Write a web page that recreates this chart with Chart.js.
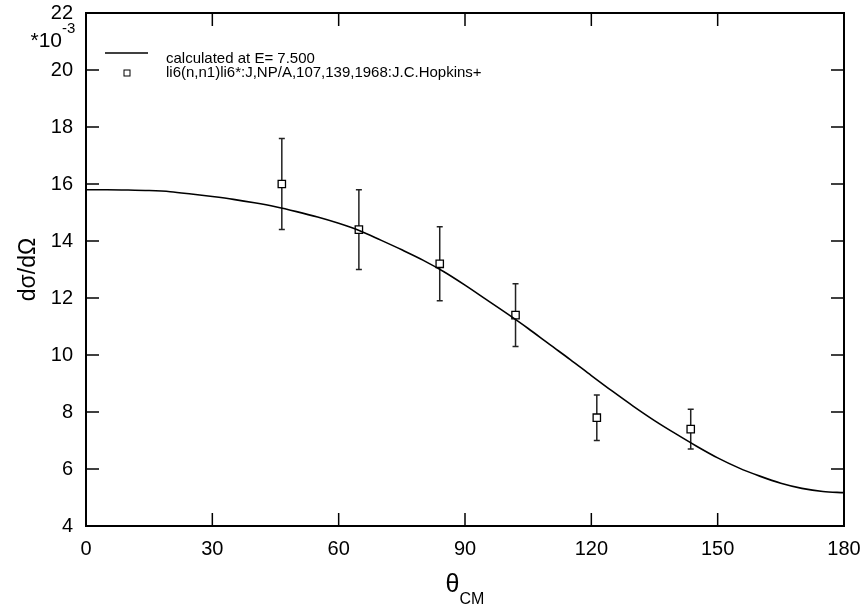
<!DOCTYPE html>
<html>
<head>
<meta charset="utf-8">
<script src="https://cdn.jsdelivr.net/npm/chart.js@4.4.0/dist/chart.umd.min.js"></script>
<style>
  html, body { margin: 0; padding: 0; background: #fff; }
</style>
</head>
<body>
<canvas id="xsChart" width="865" height="607"></canvas>
<script>
// calculated curve (units of 1e-3)
const curveAngles = [0, 5, 10, 15, 20, 25, 30, 35, 40, 45, 50, 55, 60, 65, 70, 75, 80, 85, 90,
                     95, 100, 105, 110, 115, 120, 125, 130, 135, 140, 145, 150, 155, 160, 165, 170, 175, 180];
const curveValues = [15.80, 15.80, 15.79, 15.77, 15.73, 15.65, 15.56, 15.46, 15.34, 15.20, 15.03, 14.84,
                     14.62, 14.36, 14.03, 13.69, 13.33, 12.92, 12.45, 11.95, 11.45, 10.93, 10.38, 9.84,
                     9.28, 8.73, 8.20, 7.70, 7.24, 6.80, 6.39, 6.04, 5.75, 5.50, 5.32, 5.21, 5.17];

// experimental points
const expAngles = [46.5, 64.8, 84.0, 102.0, 121.3, 143.6];
const expValues = [16.0, 14.4, 13.2, 11.4, 7.8, 7.4];
const expErrors = [1.6, 1.4, 1.3, 1.1, 0.8, 0.7];

const xTicks = [0, 30, 60, 90, 120, 150, 180];
const yTicks = [4, 6, 8, 10, 12, 14, 16, 18, 20, 22];

const legendLabels = ['calculated at E= 7.500', 'li6(n,n1)li6*:J,NP/A,107,139,1968:J.C.Hopkins+'];

const FONT = '"Liberation Sans", Arial, Helvetica, sans-serif';

// error bars, frame, inward ticks, titles, legend
const decorPlugin = {
    id: 'decor',
    beforeDatasetsDraw(chart) {
        const ctx = chart.ctx;
        const xs = chart.scales.x, ys = chart.scales.y;
        ctx.save();
        ctx.strokeStyle = '#222';
        ctx.lineWidth = 1.5;
        expAngles.forEach((a, i) => {
            const px = xs.getPixelForValue(a);
            const top = ys.getPixelForValue(expValues[i] + expErrors[i]);
            const bot = ys.getPixelForValue(expValues[i] - expErrors[i]);
            ctx.beginPath();
            ctx.moveTo(px, top); ctx.lineTo(px, bot);
            ctx.moveTo(px - 3, top); ctx.lineTo(px + 3, top);
            ctx.moveTo(px - 3, bot); ctx.lineTo(px + 3, bot);
            ctx.stroke();
        });
        ctx.restore();
    },
    afterDraw(chart) {
        const ctx = chart.ctx;
        const a = chart.chartArea;
        const xs = chart.scales.x, ys = chart.scales.y;
        ctx.save();
        ctx.strokeStyle = '#000';
        ctx.fillStyle = '#000';

        // ticks inside frame
        ctx.lineWidth = 1.5;
        ctx.beginPath();
        xTicks.forEach(t => {
            const px = xs.getPixelForValue(t);
            ctx.moveTo(px, a.bottom); ctx.lineTo(px, a.bottom - 13);
            ctx.moveTo(px, a.top); ctx.lineTo(px, a.top + 13);
        });
        yTicks.forEach(t => {
            const py = ys.getPixelForValue(t);
            ctx.moveTo(a.left, py); ctx.lineTo(a.left + 13, py);
            ctx.moveTo(a.right, py); ctx.lineTo(a.right - 13, py);
        });
        ctx.stroke();

        // frame
        ctx.lineWidth = 2;
        ctx.strokeRect(a.left, a.top, a.right - a.left, a.bottom - a.top);

        // scale factor note
        ctx.textBaseline = 'alphabetic';
        ctx.font = '21px ' + FONT;
        ctx.textAlign = 'right';
        ctx.fillText('*10', a.left - 24, a.top + 34);
        ctx.font = '15px ' + FONT;
        ctx.textAlign = 'left';
        ctx.fillText('-3', a.left - 24, a.top + 20);

        // y title
        ctx.save();
        ctx.translate(29, (a.top + a.bottom) / 2);
        ctx.rotate(-Math.PI / 2);
        ctx.font = '23px ' + FONT;
        ctx.textAlign = 'center';
        ctx.textBaseline = 'middle';
        ctx.fillText('dσ/dΩ', 0, 0);
        ctx.restore();

        // x title with subscript
        const cx = (a.left + a.right) / 2;
        ctx.font = '25px ' + FONT;
        const wTheta = ctx.measureText('θ').width;
        ctx.font = '16px ' + FONT;
        const wCM = ctx.measureText('CM').width;
        const x0 = cx - (wTheta + wCM) / 2;
        ctx.textAlign = 'left';
        ctx.font = '25px ' + FONT;
        ctx.fillText('θ', x0, a.bottom + 66);
        ctx.font = '16px ' + FONT;
        ctx.fillText('CM', x0 + wTheta, a.bottom + 78);

        // legend
        ctx.lineWidth = 1.3;
        ctx.beginPath();
        ctx.moveTo(a.left + 19, a.top + 40);
        ctx.lineTo(a.left + 62, a.top + 40);
        ctx.stroke();
        ctx.font = '15px ' + FONT;
        ctx.fillText(legendLabels[0], a.left + 80, a.top + 50);
        ctx.lineWidth = 1;
        ctx.fillStyle = '#fff';
        ctx.fillRect(a.left + 38, a.top + 57, 6, 6);
        ctx.strokeRect(a.left + 38, a.top + 57, 6, 6);
        ctx.fillStyle = '#000';
        ctx.fillText(legendLabels[1], a.left + 80, a.top + 64);

        ctx.restore();
    }
};

const ctx = document.getElementById('xsChart').getContext('2d');
const xsChart = new Chart(ctx, {
    type: 'scatter',
    data: {
        datasets: [{
            label: legendLabels[0],
            data: curveAngles.map((x, i) => ({ x: x, y: curveValues[i] })),
            showLine: true,
            pointRadius: 0,
            borderColor: '#000',
            borderWidth: 1.6,
            cubicInterpolationMode: 'monotone'
        }, {
            label: legendLabels[1],
            data: expAngles.map((x, i) => ({ x: x, y: expValues[i] })),
            showLine: false,
            pointStyle: 'rect',
            pointRadius: 5.2,
            backgroundColor: '#fff',
            borderColor: '#000',
            borderWidth: 1.3
        }]
    },
    options: {
        responsive: false,
        animation: false,
        devicePixelRatio: 1,
        layout: {
            padding: { top: 13, right: 21, left: 0, bottom: 0 }
        },
        plugins: {
            legend: { display: false },
            tooltip: { enabled: false }
        },
        scales: {
            x: {
                type: 'linear',
                min: 0,
                max: 180,
                afterFit: s => { s.height = 81; s.paddingLeft = 0; s.paddingRight = 0; },
                afterBuildTicks: s => { s.ticks = xTicks.map(v => ({ value: v })); },
                grid: { display: false, drawTicks: false },
                border: { display: false },
                ticks: { color: '#000', padding: 11, font: { family: FONT, size: 20 } }
            },
            y: {
                type: 'linear',
                min: 4,
                max: 22,
                afterFit: s => { s.width = 86; s.paddingTop = 0; s.paddingBottom = 0; },
                afterBuildTicks: s => { s.ticks = yTicks.map(v => ({ value: v })); },
                grid: { display: false, drawTicks: false },
                border: { display: false },
                ticks: { color: '#000', padding: 13, font: { family: FONT, size: 20 } }
            }
        }
    },
    plugins: [decorPlugin]
});
</script>
</body>
</html>
